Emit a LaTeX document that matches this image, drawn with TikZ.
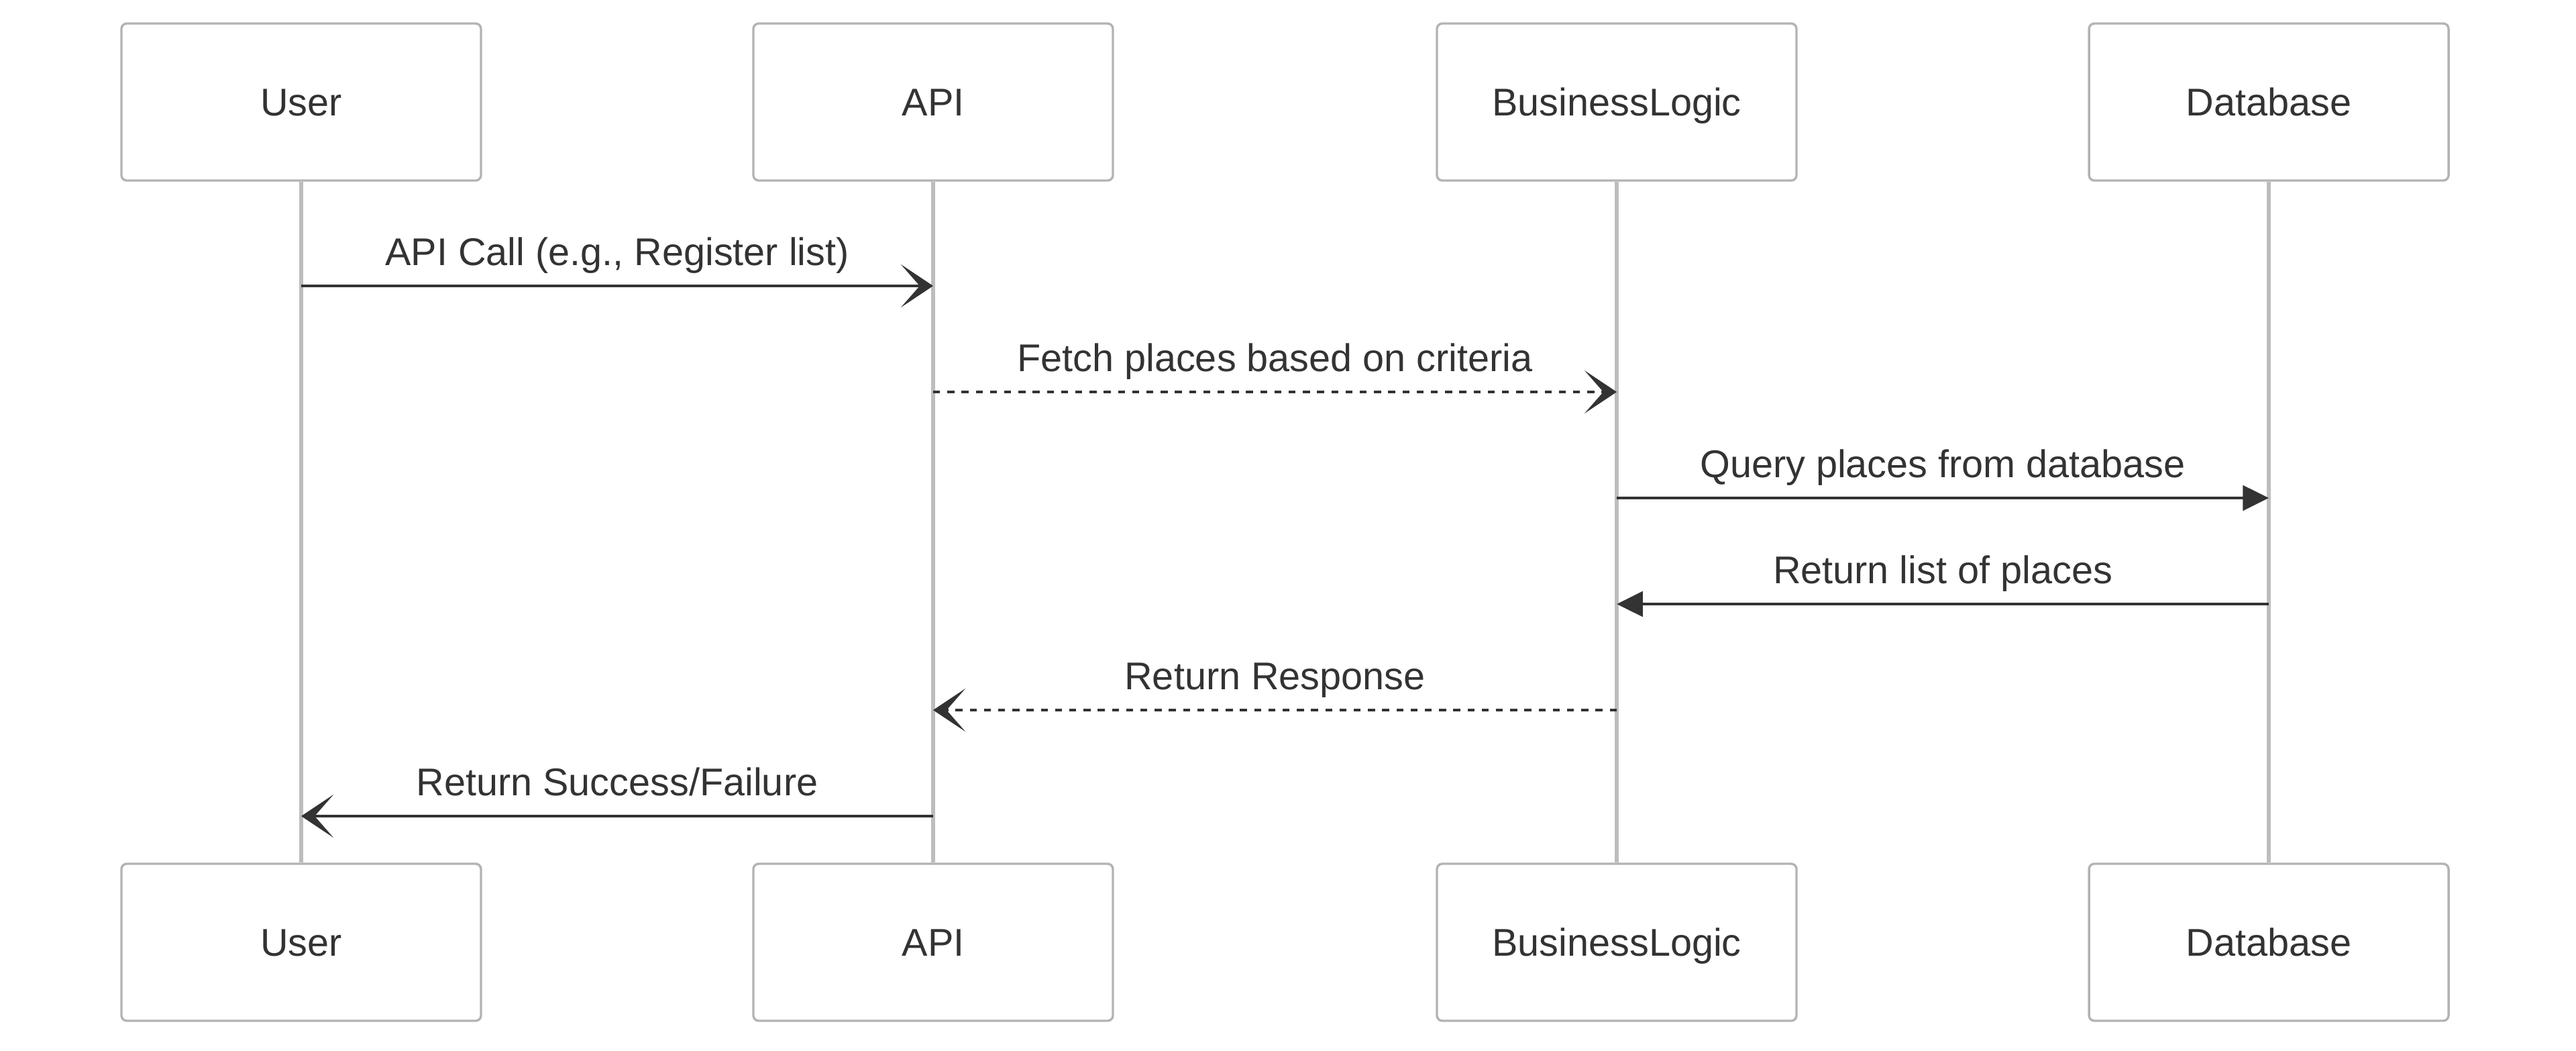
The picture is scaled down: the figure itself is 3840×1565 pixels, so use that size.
\documentclass[tikz,border=0pt]{standalone}
\usepackage{fontspec}
\setmainfont{Liberation Sans}
\usepackage{tikz}
\usetikzlibrary{arrows.meta}

\definecolor{boxgray}{HTML}{B3B3B3}
\definecolor{lifegray}{HTML}{BDBDBD}
\definecolor{ink}{HTML}{333333}

\tikzset{
  actor/.style={draw=boxgray, line width=0.85pt, fill=white, rounded corners=2pt,
    minimum width=134pt, minimum height=58.5pt, inner sep=0pt,
    text=ink, font=\fontsize{14.4pt}{17pt}\selectfont, text height=10.3pt, text depth=0pt},
  life/.style={draw=lifegray, line width=1.4pt},
  msg/.style={draw=ink, line width=1.2pt},
  async/.style={msg, -{Stealth[length=12pt, width=16pt, inset=7pt]}},
  sync/.style={msg, -{Triangle[length=9.7pt, width=9.3pt]}},
  ret/.style={async, dash pattern=on 2.6pt off 2.7pt},
  lbl/.style={anchor=base, yshift=7.75pt, text=ink, inner sep=0pt,
    font=\fontsize{14.4pt}{17pt}\selectfont}
}

\begin{document}
\begin{tikzpicture}[x=0.25pt, y=-0.25pt]
\useasboundingbox (0,0) rectangle (3840,1565);

    \node[actor] (userT) at (449,152) {User};
    \node[actor] (apiT) at (1391,152) {API};
    \node[actor] (logicT) at (2410,152) {BusinessLogic};
    \node[actor] (dbT) at (3382,152) {Database};

    \node[actor] (userB) at (449,1404) {User};
    \node[actor] (apiB) at (1391,1404) {API};
    \node[actor] (logicB) at (2410,1404) {BusinessLogic};
    \node[actor] (dbB) at (3382,1404) {Database};

    \draw[life] (userT) -- (userB);
    \draw[life] (apiT) -- (apiB);
    \draw[life] (logicT) -- (logicB);
    \draw[life] (dbT) -- (dbB);

    \coordinate (m1) at (0,426);
    \coordinate (m2) at (0,584);
    \coordinate (m3) at (0,742);
    \coordinate (m4) at (0,900);
    \coordinate (m5) at (0,1058);
    \coordinate (m6) at (0,1216);

\draw[async] (userT |- m1) -- node[lbl] {API Call (e.g., Register list)} (apiT |- m1);
\draw[ret] (apiT |- m2) -- node[lbl] {Fetch places based on criteria} (logicT |- m2);
\draw[sync] (logicT |- m3) -- node[lbl] {Query places from database} (dbT |- m3);
\draw[sync] (dbT |- m4) -- node[lbl] {Return list of places} (logicT |- m4);
\draw[ret] (logicT |- m5) -- node[lbl] {Return Response} (apiT |- m5);
\draw[async] (apiT |- m6) -- node[lbl] {Return Success/Failure} (userT |- m6);
\end{tikzpicture}
\end{document}
